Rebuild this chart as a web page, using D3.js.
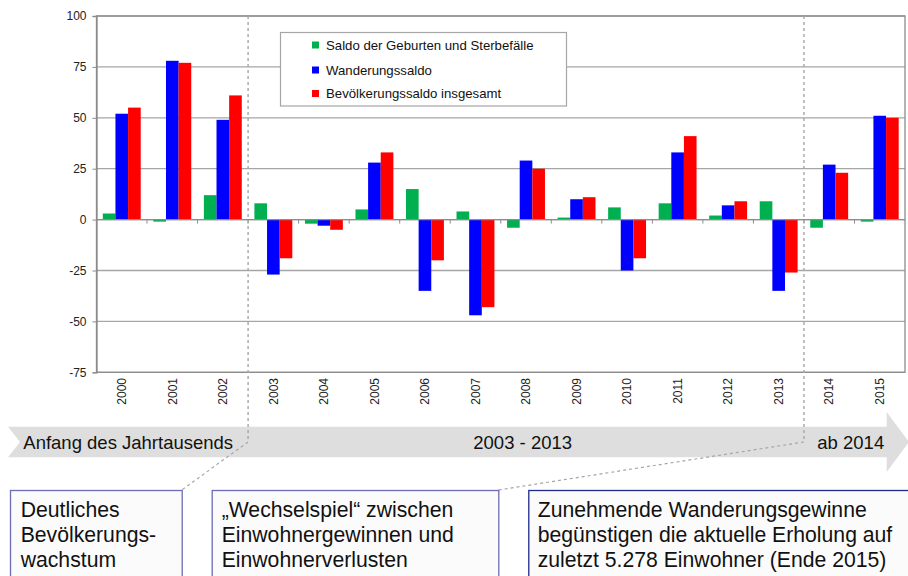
<!DOCTYPE html>
<html lang="de">
<head>
<meta charset="utf-8">
<script src="https://cdn.jsdelivr.net/npm/d3@7"></script>
<style>
  html, body { margin: 0; padding: 0; background: #fff; }
  svg { display: block; font-family: "Liberation Sans", Arial, sans-serif; }
</style>
</head>
<body>
<svg id="chart" width="908" height="576"></svg>
<script>
// Jahreswerte der Bevölkerungsentwicklung
const years = ["2000","2001","2002","2003","2004","2005","2006","2007","2008","2009","2010","2011","2012","2013","2014","2015"];
const natural   = [3, -1, 12, 8, -2, 5, 15, 4, -4, 1, 6, 8, 2, 9, -4, -1];
const migration = [52, 78, 49, -27, -3, 28, -35, -47, 29, 10, -25, 33, 7, -35, 27, 51];
const total     = [55, 77, 61, -19, -5, 33, -20, -43, 25, 11, -19, 41, 9, -26, 23, 50];

const seriesNames  = ["Saldo der Geburten und Sterbefälle", "Wanderungssaldo", "Bevölkerungssaldo insgesamt"];
const seriesColors = ["#00b050", "#0000ff", "#ff0000"];
const seriesValues = [natural, migration, total];

const yTicks = [-75, -50, -25, 0, 25, 50, 75, 100];

const phaseLabels = ["Anfang des Jahrtausends", "2003 - 2013", "ab 2014"];
const boxTexts = [
  ["Deutliches", "Bevölkerungs-", "wachstum"],
  ["„Wechselspiel“ zwischen", "Einwohnergewinnen und", "Einwohnerverlusten"],
  ["Zunehmende Wanderungsgewinne", "begünstigen die aktuelle Erholung auf", "zuletzt 5.278 Einwohner (Ende 2015)"]
];

const svg = d3.select("#chart");
const plot = { left: 96.5, right: 905, top: 16, bottom: 372.3 };

const x0 = d3.scaleBand().domain(years).range([plot.left, plot.right]).padding(0);
const x1 = d3.scaleBand().domain(d3.range(3)).range([0, x0.bandwidth()]).paddingInner(0).paddingOuter(0.5);
const y = d3.scaleLinear().domain([-75, 100]).range([plot.bottom, plot.top]);

// Gitternetz
svg.append("g")
  .selectAll("line")
  .data(yTicks)
  .join("line")
  .attr("x1", plot.left).attr("x2", plot.right)
  .attr("y1", d => y(d)).attr("y2", d => y(d))
  .attr("stroke", "#a6a6a6").attr("stroke-width", 1.3);

// Rahmen der Zeichenfläche
svg.append("rect")
  .attr("x", plot.left).attr("y", plot.top)
  .attr("width", plot.right - plot.left).attr("height", plot.bottom - plot.top)
  .attr("fill", "none").attr("stroke", "#8c8c8c").attr("stroke-width", 1.3);

// y-Achse (Bindestrich als Minuszeichen)
const yAxis = svg.append("g")
  .attr("transform", `translate(${plot.left},0)`)
  .call(d3.axisLeft(y).tickValues(yTicks).tickFormat(d => String(d)).tickSize(4).tickPadding(6));
yAxis.select(".domain").attr("stroke", "#8c8c8c").attr("stroke-width", 1.3);
yAxis.selectAll(".tick line").attr("stroke", "#8c8c8c");
yAxis.selectAll(".tick text")
  .attr("font-size", 12).attr("fill", "#222")
  .attr("font-family", "Liberation Sans, Arial, sans-serif");

// Balken
const groups = svg.append("g")
  .selectAll("g")
  .data(years)
  .join("g")
  .attr("transform", d => `translate(${x0(d)},0)`);

groups.selectAll("rect")
  .data((yr, i) => seriesValues.map((vals, s) => ({ s, v: vals[i] })))
  .join("rect")
  .attr("x", d => x1(d.s))
  .attr("width", x1.bandwidth())
  .attr("y", d => y(Math.max(0, d.v)))
  .attr("height", d => Math.abs(y(d.v) - y(0)))
  .attr("fill", d => seriesColors[d.s]);

// Nulllinie mit Kategorie-Teilstrichen
svg.append("line")
  .attr("x1", plot.left).attr("x2", plot.right)
  .attr("y1", y(0)).attr("y2", y(0))
  .attr("stroke", "#8c8c8c").attr("stroke-width", 1.3);
svg.append("g")
  .selectAll("line")
  .data(years.slice(1))
  .join("line")
  .attr("x1", d => x0(d)).attr("x2", d => x0(d))
  .attr("y1", y(0)).attr("y2", y(0) + 4)
  .attr("stroke", "#8c8c8c");

// Jahresbeschriftung
svg.append("g")
  .selectAll("text")
  .data(years)
  .join("text")
  .attr("transform", d => `translate(${x0(d) + x0.bandwidth() / 2},378) rotate(-90)`)
  .attr("text-anchor", "end")
  .attr("dy", "0.35em")
  .attr("font-size", 12)
  .attr("fill", "#222")
  .text(d => d);

// Legende
const legend = svg.append("g");
legend.append("rect")
  .attr("x", 280.5).attr("y", 32.5).attr("width", 286).attr("height", 73.5)
  .attr("fill", "#fff").attr("stroke", "#a6a6a6").attr("stroke-width", 1.2);
const legendRows = [45, 70, 93.5];
seriesNames.forEach((name, i) => {
  legend.append("rect")
    .attr("x", 312).attr("y", legendRows[i] - 3.5).attr("width", 7).attr("height", 7)
    .attr("fill", seriesColors[i]);
  legend.append("text")
    .attr("x", 326).attr("y", legendRows[i] + 4.8)
    .attr("font-size", 13.2).attr("fill", "#111")
    .text(name);
});

// Zeitpfeil
const arrowTop = 426.7, arrowBot = 457.3, arrowMid = (arrowTop + arrowBot) / 2;
const arrowPath = d3.path();
arrowPath.moveTo(8, arrowTop);
arrowPath.lineTo(886.7, arrowTop);
arrowPath.lineTo(886.7, 412);
arrowPath.lineTo(909, arrowMid);
arrowPath.lineTo(886.7, 472);
arrowPath.lineTo(886.7, arrowBot);
arrowPath.lineTo(8, arrowBot);
arrowPath.lineTo(20, arrowMid);
arrowPath.closePath();
svg.append("path").attr("d", arrowPath.toString()).attr("fill", "#dedede");

// Phasengrenzen (gestrichelt)
const splitA = x0("2003"), splitB = x0("2014");
svg.append("g")
  .selectAll("line")
  .data([splitA, splitB])
  .join("line")
  .attr("x1", d => d).attr("x2", d => d)
  .attr("y1", plot.top).attr("y2", arrowMid)
  .attr("stroke", "#a6a6a6").attr("stroke-width", 1.4)
  .attr("stroke-dasharray", "3,3");

const boxTop = 490;
const boxes = [
  { x: 10, w: 171.7, stroke: "#6b6bb8", tx: 20.7 },
  { x: 211.7, w: 286.6, stroke: "#6b6bb8", tx: 221.7 },
  { x: 528.3, w: 400, stroke: "#1f2a8a", tx: 537.7 }
];

// Verbindungslinien zu den Textboxen
svg.append("line")
  .attr("x1", splitA).attr("y1", arrowMid)
  .attr("x2", boxes[0].x + boxes[0].w).attr("y2", boxTop)
  .attr("stroke", "#a6a6a6").attr("stroke-width", 1.2).attr("stroke-dasharray", "3,3");
svg.append("line")
  .attr("x1", splitB).attr("y1", arrowMid)
  .attr("x2", boxes[1].x + boxes[1].w).attr("y2", boxTop)
  .attr("stroke", "#a6a6a6").attr("stroke-width", 1.2).attr("stroke-dasharray", "3,3");

// Phasentexte im Pfeil
const phaseX = [23.3, 473.3, 817.3];
svg.append("g")
  .selectAll("text")
  .data(phaseLabels)
  .join("text")
  .attr("x", (d, i) => phaseX[i]).attr("y", 448.5)
  .attr("font-size", 18.5).attr("fill", "#111")
  .text(d => d);

// Textboxen
boxes.forEach((b, i) => {
  svg.append("rect")
    .attr("x", b.x + 0.5).attr("y", boxTop + 0.5)
    .attr("width", b.w).attr("height", 120)
    .attr("fill", "#fbfbfb").attr("stroke", b.stroke).attr("stroke-width", 1.3);
  boxTexts[i].forEach((line, j) => {
    svg.append("text")
      .attr("x", b.tx).attr("y", 516.5 + j * 25.4)
      .attr("font-size", 21.2).attr("fill", "#111")
      .text(line);
  });
});
</script>
</body>
</html>
